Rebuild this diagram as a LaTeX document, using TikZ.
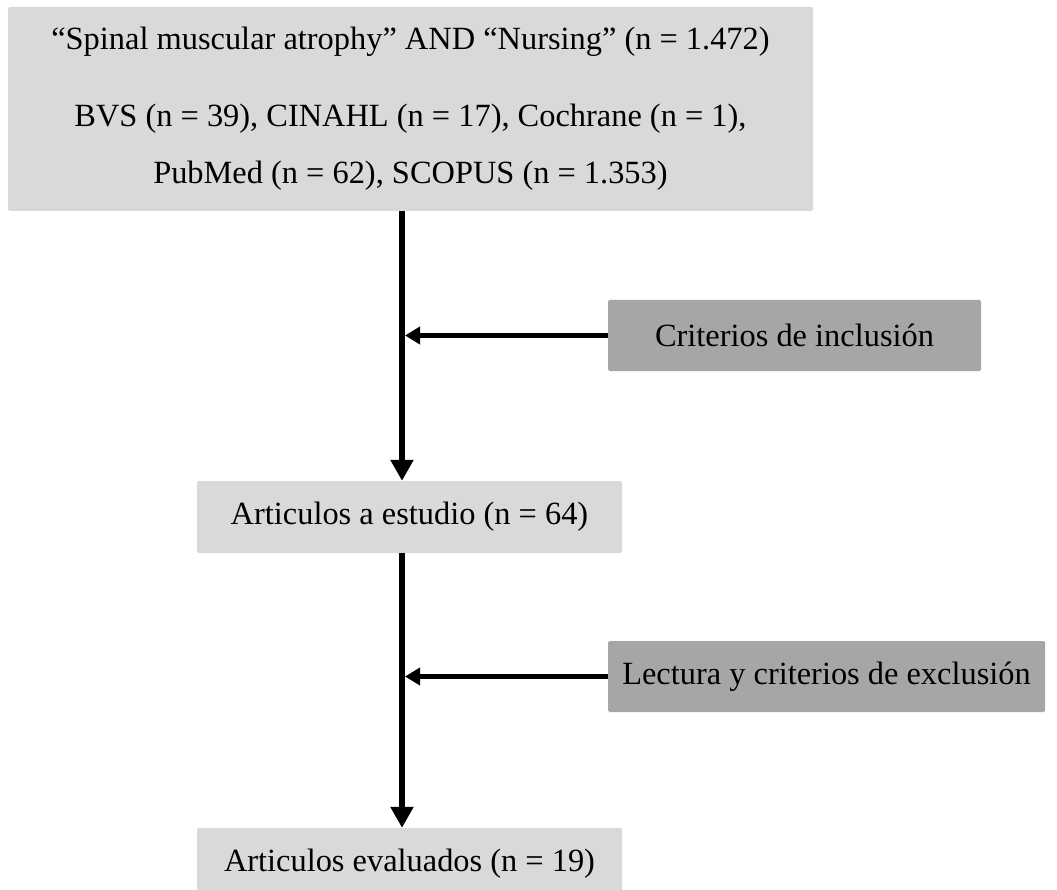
\documentclass[tikz,border=0pt]{standalone}
\usepackage{fontspec}
\setmainfont{Liberation Serif}
\usetikzlibrary{arrows.meta,calc}
\definecolor{lightbox}{HTML}{D9D9D9}
\definecolor{darkbox}{HTML}{A6A6A6}
\tikzset{
  lightnode/.style={fill=lightbox, draw=none, rounded corners=1.5pt, inner sep=0pt, align=center,
    font=\fontsize{32.4}{57}\selectfont},
  darknode/.style={fill=darkbox, draw=none, rounded corners=1.5pt, inner sep=0pt, align=center,
    font=\fontsize{32.4}{37}\selectfont},
  mainflow/.style={line width=6.5pt, -{Triangle[length=21pt,width=22pt]}},
  sideflow/.style={line width=5pt, -{Triangle[length=15pt,width=17pt]}},
}
\begin{document}
\begin{tikzpicture}[x=1pt,y=-1pt]
\useasboundingbox (0,0) rectangle (1057,890);
\fill[white] (0,0) rectangle (1057,890);
\node[lightnode, minimum width=805pt, minimum height=204pt] (top) at (410.5,109)
  {``Spinal muscular atrophy'' AND ``Nursing'' (n = 1.472)\\[20pt]
   BVS (n = 39), CINAHL (n = 17), Cochrane (n = 1),\\
   PubMed (n = 62), SCOPUS (n = 1.353)};
\node[darknode, minimum width=373pt, minimum height=71pt] (crit) at (794.5,335.5) {Criterios de inclusión};
\node[lightnode, minimum width=425pt, minimum height=72pt] (mid) at (409.5,517) {Articulos a estudio (n = 64)};
\node[darknode, minimum width=437pt, minimum height=71pt] (lect) at (826.5,676.5) {Lectura y criterios de exclusión};
\node[lightnode, minimum width=425pt, minimum height=72pt] (bot) at (409.5,864) {Articulos evaluados (n = 19)};
\coordinate (spine) at (402,0);
\draw[mainflow] (top.south -| spine) -- (mid.north -| spine);
\draw[mainflow] (mid.south -| spine) -- (bot.north -| spine);
\draw[sideflow, shorten >=3pt] (crit.west) -- (crit.west -| spine);
\draw[sideflow, shorten >=3pt] (lect.west) -- (lect.west -| spine);
\end{tikzpicture}
\end{document}
